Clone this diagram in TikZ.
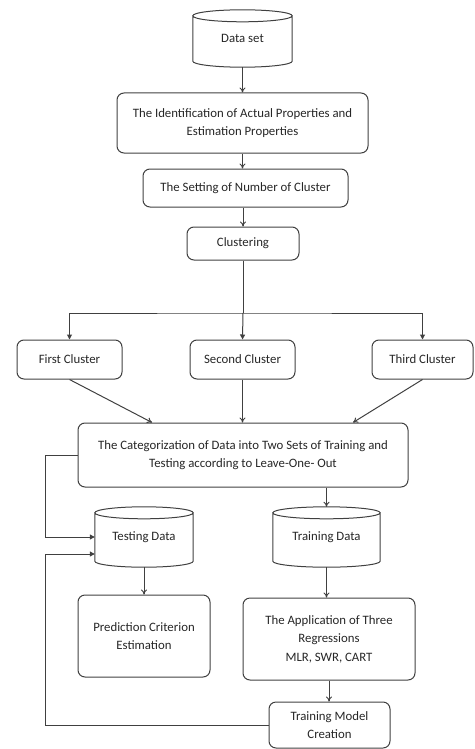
\documentclass[tikz,border=0pt]{standalone}
\usepackage{fontspec}
\setmainfont{Carlito}
\usetikzlibrary{arrows.meta,calc}
\begin{document}
\begin{tikzpicture}[x=1pt,y=-1pt,
  every node/.style={font=\fontsize{12.8}{18.5}\selectfont, text=black!85, align=center, inner sep=0pt},
  rbox/.style={draw=black!75, line width=1pt, rounded corners=7pt},
  conn/.style={draw=black!75, line width=1pt},
  openarr/.style={conn, -{To[length=5pt,width=6pt]}},
  fillarr/.style={conn, -{Triangle[length=5pt,width=5pt]}},
  cylline/.style={draw=black!75, line width=1pt}
]
\useasboundingbox (0,0) rectangle (474,749);
\newcommand\mycyl[1]{%
  \draw[cylline] let \p1=(#1.north west), \p2=(#1.north east), \n1={(\x2-\x1)/2} in
    (#1.north west) -- (#1.south west) arc[start angle=180,end angle=360,x radius=\n1,y radius=6pt] -- (#1.north east)
    (#1.north) ellipse [x radius=\n1, y radius=6pt];}

% nodes
\node[minimum width=99, minimum height=45] (ds) at (242.5,38.5) {Data set};
\node[rbox, minimum width=251, minimum height=60] (id) at (242.5,123) {The Identification of Actual Properties and\\Estimation Properties};
\node[rbox, minimum width=205, minimum height=38] (set) at (245.5,188) {The Setting of Number of Cluster};
\node[rbox, minimum width=112, minimum height=33] (clu) at (243,243.5) {Clustering};
\node[rbox, minimum width=105, minimum height=39] (c1) at (69.5,359.5) {First Cluster};
\node[rbox, minimum width=105, minimum height=39] (c2) at (242.5,359.5) {Second Cluster};
\node[rbox, minimum width=101, minimum height=39] (c3) at (422.5,359.5) {Third Cluster};
\node[rbox, minimum width=330, minimum height=64] (cat) at (243,455) {The Categorization of Data into Two Sets of Training and\\Testing according to Leave-One- Out};
\node[minimum width=98, minimum height=48] (test) at (144,537) {Testing Data};
\node[minimum width=107, minimum height=48] (train) at (326.5,537) {Training Data};
\node[rbox, minimum width=132, minimum height=82] (pred) at (144,636) {Prediction Criterion\\Estimation};
\node[rbox, minimum width=172, minimum height=82] (app) at (329,639) {The Application of Three\\Regressions\\MLR, SWR, CART};
\node[rbox, minimum width=121, minimum height=46] (tm) at (329.5,725) {Training Model\\Creation};

\mycyl{ds}
\mycyl{test}
\mycyl{train}

\coordinate (jn) at (243,313);
\coordinate (fb) at (45,0);

% connectors
\draw[openarr] ([yshift=-6pt]ds.south) -- (ds.south |- id.north);
\draw[openarr] (id.south) -- (id.south |- set.north);
\draw[openarr] (clu.north |- set.south) -- (clu.north);
\draw[conn] (clu.south) -- (jn);
\draw[fillarr] (jn) -- (c2.north);
\draw[conn, {Triangle[length=5pt,width=5pt]}-{Triangle[length=5pt,width=5pt]}] (c1.north) |- (jn) -| (c3.north);
\draw[openarr] (c1.south) -- ([xshift=-91pt]cat.north);
\draw[openarr] (c2.south) -- (c2.south |- cat.north);
\draw[openarr] (c3.south) -- ([xshift=110pt]cat.north);
\draw[openarr] (train.north |- cat.south) -- ([yshift=6pt]train.north);
\draw[fillarr] (cat.west) -- (cat.west -| fb) |- (test.west);
\draw[fillarr] (tm.west) -- (tm.west -| fb) |- ([yshift=-17pt]test.west);
\draw[openarr] ([yshift=-6pt]test.south) -- (pred.north);
\draw[openarr] ([yshift=-6pt]train.south) -- (train.south |- app.north);
\draw[openarr] (app.south) -- (app.south |- tm.north);
\end{tikzpicture}
\end{document}
